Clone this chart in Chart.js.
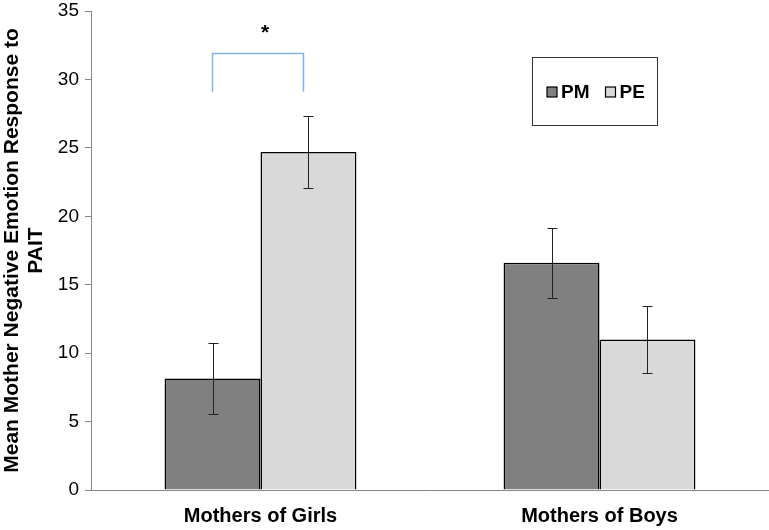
<!DOCTYPE html>
<html>
<head>
<meta charset="utf-8">
<script src="https://cdn.jsdelivr.net/npm/chart.js@4.4.1/dist/chart.umd.min.js"></script>
<style>
  html, body { margin: 0; padding: 0; background: #fff; }
  #wrap { width: 769px; height: 530px; }
</style>
</head>
<body>
<div id="wrap"><canvas id="chart"></canvas></div>
<script>
var categories = ['Mothers of Girls', 'Mothers of Boys'];
var seriesNames = ['PM', 'PE'];
var pmValues = [8.15, 16.6];
var peValues = [24.7, 11.0];
var pmErrors = [2.6, 2.55];
var peErrors = [2.65, 2.45];
var yTicks = [0, 5, 10, 15, 20, 25, 30, 35];
// significance bracket (Girls: PM vs PE)
var bracketLow = 29.1;
var bracketHigh = 31.9;
var sigLabel = '*';

var axisGrey = '#868686';
var fontFam = '"Liberation Sans", Arial, sans-serif';

var errorBars = {
  id: 'errorBars',
  afterDatasetsDraw: function (chart) {
    var ctx = chart.ctx;
    var y = chart.scales.y;
    var errs = [pmErrors, peErrors];
    ctx.save();
    ctx.strokeStyle = '#222';
    ctx.lineWidth = 1;
    chart.data.datasets.forEach(function (ds, i) {
      var meta = chart.getDatasetMeta(i);
      meta.data.forEach(function (bar, j) {
        var v = ds.data[j], e = errs[i][j];
        var x = Math.round(bar.x) + 0.5;
        var top = Math.round(y.getPixelForValue(v + e)) + 0.5;
        var bot = Math.round(y.getPixelForValue(v - e)) + 0.5;
        ctx.beginPath();
        ctx.moveTo(x, top); ctx.lineTo(x, bot);
        ctx.moveTo(x - 5, top); ctx.lineTo(x + 5, top);
        ctx.moveTo(x - 5, bot); ctx.lineTo(x + 5, bot);
        ctx.stroke();
      });
    });
    // bracket
    var a = chart.getDatasetMeta(0).data[0].x;
    var b = chart.getDatasetMeta(1).data[0].x - 5;
    var lo = y.getPixelForValue(bracketLow);
    var hi = Math.round(y.getPixelForValue(bracketHigh)) + 0.5;
    ctx.strokeStyle = '#86b3e6';
    ctx.lineWidth = 1.5;
    ctx.beginPath();
    ctx.moveTo(a, lo); ctx.lineTo(a, hi); ctx.lineTo(b, hi); ctx.lineTo(b, lo);
    ctx.stroke();
    ctx.fillStyle = '#000';
    ctx.font = 'bold 21px ' + fontFam;
    ctx.textAlign = 'center';
    ctx.textBaseline = 'middle';
    ctx.fillText(sigLabel, (a + b) / 2 + 7, y.getPixelForValue(bracketHigh + 1.5));
    // legend box
    var ca = chart.chartArea;
    var lx = ca.left + 441, ly = ca.top + 46, lw = 125, lh = 68;
    ctx.strokeStyle = '#333';
    ctx.lineWidth = 1;
    ctx.strokeRect(lx + 0.5, ly + 0.5, lw, lh);
    ctx.font = 'bold 19px ' + fontFam;
    ctx.textAlign = 'left';
    var cx = lx + 15;
    chart.data.datasets.forEach(function (ds) {
      ctx.fillStyle = ds.backgroundColor;
      ctx.fillRect(cx, ly + 30, 10, 10);
      ctx.strokeStyle = '#000';
      ctx.lineWidth = 1.2;
      ctx.strokeRect(cx, ly + 30, 10, 10);
      ctx.fillStyle = '#000';
      ctx.fillText(ds.label, cx + 14, ly + 36);
      cx += 14 + ctx.measureText(ds.label).width + 16;
    });
    ctx.restore();
  }
};

new Chart(document.getElementById('chart').getContext('2d'), {
  type: 'bar',
  plugins: [errorBars],
  data: {
    labels: categories,
    datasets: [
      { label: seriesNames[0], data: pmValues, backgroundColor: '#808080', borderColor: '#000', borderWidth: 1.5 },
      { label: seriesNames[1], data: peValues, backgroundColor: '#d9d9d9', borderColor: '#000', borderWidth: 1.5 }
    ]
  },
  options: {
    responsive: true,
    maintainAspectRatio: false,
    animation: false,
    layout: { padding: { top: 11, right: 0, left: 0, bottom: 0 } },
    datasets: { bar: { categoryPercentage: 0.566, barPercentage: 1.0 } },
    plugins: {
      legend: { display: false },
      tooltip: { enabled: false }
    },
    scales: {
      x: {
        grid: { display: false },
        border: { display: true, color: axisGrey, width: 1 },
        ticks: {
          color: '#000',
          padding: 6,
          font: { family: fontFam, size: 20, weight: 'bold' }
        },
        afterFit: function (s) { s.height = 40; s.paddingLeft = 0; s.paddingRight = 0; }
      },
      y: {
        min: 0,
        max: 35,
        afterBuildTicks: function (s) { s.ticks = yTicks.map(function (v) { return { value: v }; }); },
        grid: { display: true, drawOnChartArea: false, drawTicks: true, tickLength: 6, color: axisGrey },
        border: { display: true, color: axisGrey, width: 1 },
        ticks: {
          color: '#000',
          padding: 6,
          font: { family: fontFam, size: 19 }
        },
        title: {
          display: true,
          text: ['Mean Mother Negative Emotion Response to', 'PAIT'],
          color: '#000',
          padding: 0,
          font: { family: fontFam, size: 21, weight: 'bold', lineHeight: 1.15 }
        },
        afterFit: function (s) { s.width = 91; s.paddingTop = 0; s.paddingBottom = 0; }
      }
    }
  }
});
</script>
</body>
</html>
